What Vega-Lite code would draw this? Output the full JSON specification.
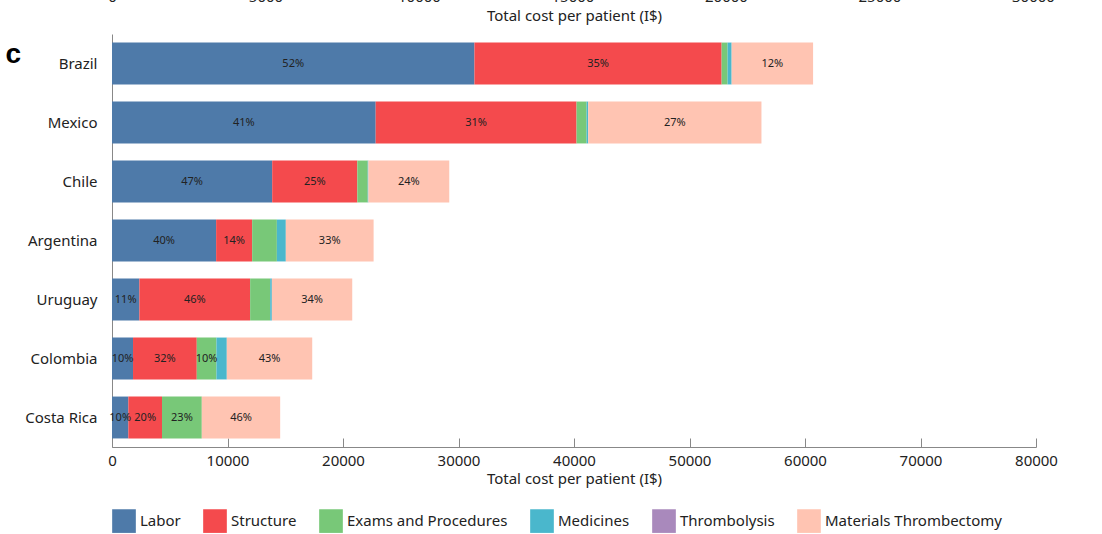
{
  "$schema": "https://vega.github.io/schema/vega-lite/v6.json",
  "width": 924,
  "height": 413,
  "autosize": {"type": "none"},
  "padding": {"left": 112, "top": 34, "right": 66, "bottom": 87},
  "background": "white",
  "config": {
    "font": "Noto Sans",
    "view": {"stroke": null},
    "axis": {"labelColor": "#222", "titleColor": "#222", "domainColor": "#888", "tickColor": "#888", "grid": false}
  },
  "data": {"values": [
    {"country": "Brazil", "category": "Labor", "k": 1, "cost": 31380, "label": "52%"},
    {"country": "Brazil", "category": "Structure", "k": 2, "cost": 21400, "label": "35%"},
    {"country": "Brazil", "category": "Exams and Procedures", "k": 3, "cost": 520, "label": ""},
    {"country": "Brazil", "category": "Medicines", "k": 4, "cost": 350, "label": ""},
    {"country": "Brazil", "category": "Materials Thrombectomy", "k": 6, "cost": 7050, "label": "12%"},
    {"country": "Mexico", "category": "Labor", "k": 1, "cost": 22830, "label": "41%"},
    {"country": "Mexico", "category": "Structure", "k": 2, "cost": 17390, "label": "31%"},
    {"country": "Mexico", "category": "Exams and Procedures", "k": 3, "cost": 870, "label": ""},
    {"country": "Mexico", "category": "Medicines", "k": 4, "cost": 140, "label": ""},
    {"country": "Mexico", "category": "Materials Thrombectomy", "k": 6, "cost": 15000, "label": "27%"},
    {"country": "Chile", "category": "Labor", "k": 1, "cost": 13870, "label": "47%"},
    {"country": "Chile", "category": "Structure", "k": 2, "cost": 7370, "label": "25%"},
    {"country": "Chile", "category": "Exams and Procedures", "k": 3, "cost": 900, "label": ""},
    {"country": "Chile", "category": "Medicines", "k": 4, "cost": 60, "label": ""},
    {"country": "Chile", "category": "Materials Thrombectomy", "k": 6, "cost": 7000, "label": "24%"},
    {"country": "Argentina", "category": "Labor", "k": 1, "cost": 9015, "label": "40%"},
    {"country": "Argentina", "category": "Structure", "k": 2, "cost": 3120, "label": "14%"},
    {"country": "Argentina", "category": "Exams and Procedures", "k": 3, "cost": 2140, "label": ""},
    {"country": "Argentina", "category": "Medicines", "k": 4, "cost": 775, "label": ""},
    {"country": "Argentina", "category": "Materials Thrombectomy", "k": 6, "cost": 7600, "label": "33%"},
    {"country": "Uruguay", "category": "Labor", "k": 1, "cost": 2370, "label": "11%"},
    {"country": "Uruguay", "category": "Structure", "k": 2, "cost": 9590, "label": "46%"},
    {"country": "Uruguay", "category": "Exams and Procedures", "k": 3, "cost": 1735, "label": ""},
    {"country": "Uruguay", "category": "Medicines", "k": 4, "cost": 145, "label": ""},
    {"country": "Uruguay", "category": "Materials Thrombectomy", "k": 6, "cost": 6960, "label": "34%"},
    {"country": "Colombia", "category": "Labor", "k": 1, "cost": 1820, "label": "10%"},
    {"country": "Colombia", "category": "Structure", "k": 2, "cost": 5520, "label": "32%"},
    {"country": "Colombia", "category": "Exams and Procedures", "k": 3, "cost": 1700, "label": "10%"},
    {"country": "Colombia", "category": "Medicines", "k": 4, "cost": 900, "label": ""},
    {"country": "Colombia", "category": "Materials Thrombectomy", "k": 6, "cost": 7395, "label": "43%"},
    {"country": "Costa Rica", "category": "Labor", "k": 1, "cost": 1415, "label": "10%"},
    {"country": "Costa Rica", "category": "Structure", "k": 2, "cost": 2915, "label": "20%"},
    {"country": "Costa Rica", "category": "Exams and Procedures", "k": 3, "cost": 3445, "label": "23%"},
    {"country": "Costa Rica", "category": "Materials Thrombectomy", "k": 6, "cost": 6785, "label": "46%"}
  ]},
  "resolve": {"scale": {"x": "independent"}, "axis": {"x": "independent"}},
  "layer": [
    {
      "layer": [
        {
          "mark": {"type": "bar"},
          "encoding": {
            "y": {
              "field": "country", "type": "nominal",
              "sort": ["Brazil", "Mexico", "Chile", "Argentina", "Uruguay", "Colombia", "Costa Rica"],
              "scale": {"paddingInner": 0.29, "paddingOuter": 0.145},
              "axis": {
                "title": "c", "titleAngle": 0, "titleX": -107, "titleY": 20, "titleAlign": "left", "titleBaseline": "middle",
                "titleFont": "Liberation Sans", "titleFontSize": 28, "titleFontWeight": "bold", "titleColor": "#000",
                "ticks": false, "labelPadding": 15, "labelFontSize": 15
              }
            },
            "x": {
              "field": "cost", "type": "quantitative", "stack": "zero",
              "scale": {"domain": [0, 80000]},
              "axis": {
                "values": [0, 10000, 20000, 30000, 40000, 50000, 60000, 70000, 80000],
                "format": "d", "tickSize": -9, "labelPadding": 15, "labelFlush": false, "labelFontSize": 15,
                "title": "Total cost per patient (I$)", "titleFontSize": 15, "titleFontWeight": "normal", "titlePadding": 3
              }
            },
            "color": {
              "field": "category", "type": "nominal",
              "scale": {
                "domain": ["Labor", "Structure", "Exams and Procedures", "Medicines", "Thrombolysis", "Materials Thrombectomy"],
                "range": ["#4e7aa9", "#f44a4d", "#78c878", "#4ab7cc", "#a989bc", "#ffc4b2"]
              },
              "legend": {
                "orient": "none", "legendX": 0, "legendY": 475, "direction": "horizontal", "columns": 6,
                "title": null, "symbolType": "square", "symbolSize": 560, "symbolStrokeWidth": 0,
                "labelFontSize": 15, "labelColor": "#222", "labelLimit": 0, "columnPadding": 22, "labelOffset": 4
              }
            },
            "order": {"field": "k", "type": "quantitative"}
          }
        },
        {
          "mark": {"type": "text", "fontSize": 11, "color": "#222"},
          "encoding": {
            "y": {"field": "country", "type": "nominal", "sort": ["Brazil", "Mexico", "Chile", "Argentina", "Uruguay", "Colombia", "Costa Rica"]},
            "x": {"field": "cost", "type": "quantitative", "stack": "zero", "bandPosition": 0.5},
            "detail": {"field": "category"},
            "order": {"field": "k", "type": "quantitative"},
            "text": {"field": "label"}
          }
        }
      ]
    },
    {
      "mark": {"type": "tick", "opacity": 0},
      "encoding": {
        "x": {
          "field": "cost", "type": "quantitative",
          "scale": {"domain": [0, 30100]},
          "axis": {
            "orient": "top", "values": [0, 5000, 10000, 15000, 20000, 25000, 30000], "format": "d",
            "domain": false, "ticks": false, "labelPadding": 30, "labelFlush": false, "labelFontSize": 15,
            "title": "Total cost per patient (I$)", "titleFontSize": 15, "titleFontWeight": "normal", "titleY": -19, "titleBaseline": "middle"
          }
        }
      }
    }
  ]
}
